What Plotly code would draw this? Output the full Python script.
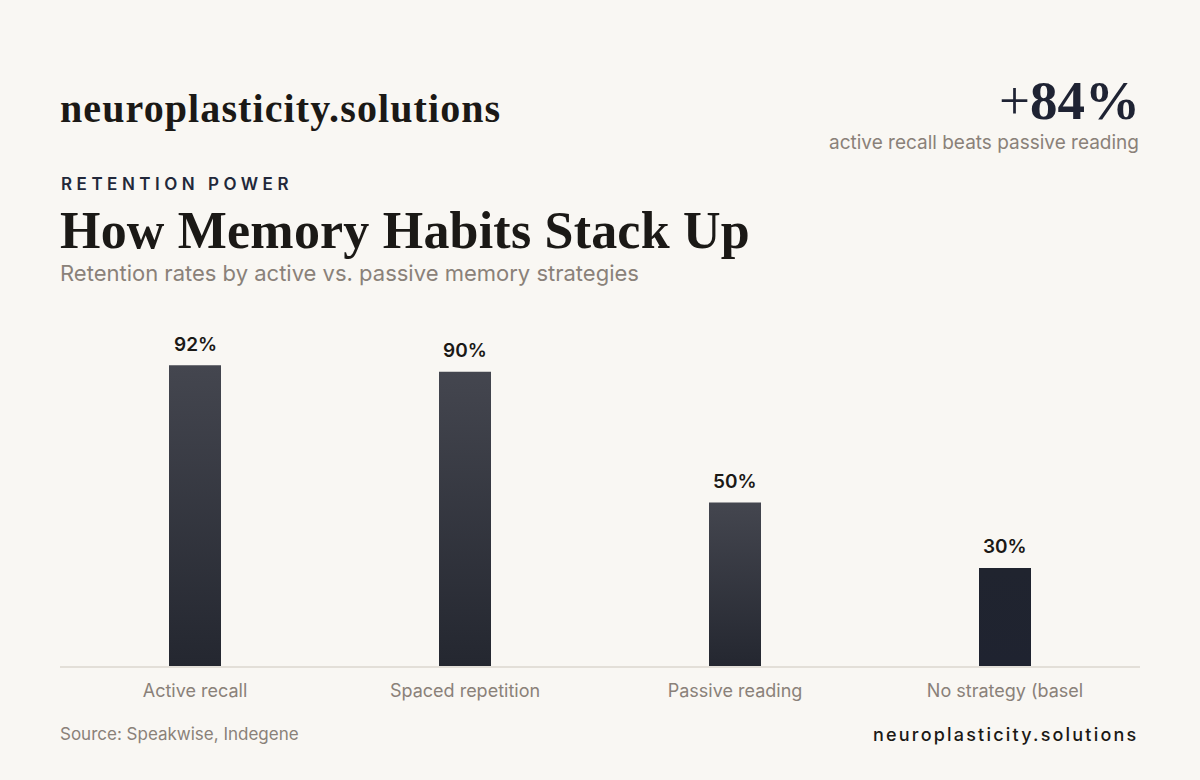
import plotly.graph_objects as go

categories = ["Active recall", "Spaced repetition", "Passive reading", "No strategy (basel"]
retention = [92, 90, 50, 30]
value_labels = ["92%", "90%", "50%", "30%"]
highlight = [False, False, False, True]

BG = "#f9f7f3"
INK = "#1b1916"
MUTED = "#8a8179"
SERIF = "Liberation Serif"
SANS = "Inter"

fig = go.Figure()
half = 0.0963
for i, (v, hl) in enumerate(zip(retention, highlight)):
    xs = [i - half, i + half, i + half, i - half, i - half]
    ys = [0, 0, v, v, 0]
    if hl:
        grad = dict(type="vertical", colorscale=[[0, "#1f2330"], [1, "#20242f"]])
    else:
        grad = dict(type="vertical", colorscale=[[0, "#242730"], [1, "#44464f"]])
    fig.add_trace(go.Scatter(x=xs, y=ys, mode="lines", fill="toself",
                             line=dict(width=0), fillgradient=grad,
                             hoverinfo="skip", showlegend=False))

for i, (v, t) in enumerate(zip(retention, value_labels)):
    fig.add_annotation(x=i, y=v, text=t, showarrow=False, yshift=21,
                       yanchor="middle", xanchor="center",
                       font=dict(family=SANS, size=19, color=INK, weight=600))

fig.update_layout(
    width=1200, height=780,
    paper_bgcolor=BG, plot_bgcolor=BG,
    margin=dict(l=60, r=60, t=339, b=114),
    showlegend=False,
    xaxis=dict(range=[-0.5, 3.5], tickmode="array", tickvals=list(range(len(categories))),
               ticktext=categories, showgrid=False, zeroline=False,
               showline=True, linecolor="#e3dfd8", linewidth=1.5,
               ticks="", ticklabelstandoff=8,
               tickfont=dict(family=SANS, size=18, color=MUTED), fixedrange=True),
    yaxis=dict(range=[0, 100], showgrid=False, zeroline=False, showticklabels=False,
               showline=False, fixedrange=True),
)

def note(text, x, y, size, color, family, xanchor="left", weight=400):
    fig.add_annotation(xref="paper", yref="paper", x=x, y=y, text=text,
                       showarrow=False, xanchor=xanchor, yanchor="middle",
                       font=dict(family=family, size=size, color=color, weight=weight))

def px(xp, yp):
    return (xp - 60) / 1080, (666 - yp) / 327

x, y = px(58, 108)
note("<span style='letter-spacing:1.1px'>neuroplasticity.solutions</span>", x, y, 40, INK, SERIF, weight=700)
x, y = px(1142, 100)
note("<span style='font-weight:400'>+</span>84%", x, y, 55, "#1f2333", SERIF, xanchor="right", weight=700)
x, y = px(1141, 143)
note("active recall beats passive reading", x, y, 19, MUTED, SANS, xanchor="right")
x, y = px(59, 184)
note("<span style='letter-spacing:4.5px'>RETENTION POWER</span>", x, y, 17, "#22283a", SANS, weight=600)
x, y = px(58, 230)
note("<span style='letter-spacing:0.2px'>How Memory Habits Stack Up</span>", x, y, 52, INK, SERIF, weight=700)
x, y = px(58, 273)
note("Retention rates by active vs. passive memory strategies", x, y, 22, MUTED, SANS)
x, y = px(58, 734)
note("Source: Speakwise, Indegene", x, y, 17, MUTED, SANS)
x, y = px(1140, 734)
note("<span style='letter-spacing:2.2px'>neuroplasticity.solutions</span>", x, y, 18, INK, SANS, xanchor="right", weight=500)

fig.write_html("out.html", config={"displayModeBar": False},
               post_script="document.body.style.margin='0';document.body.style.background='#f9f7f3';")
